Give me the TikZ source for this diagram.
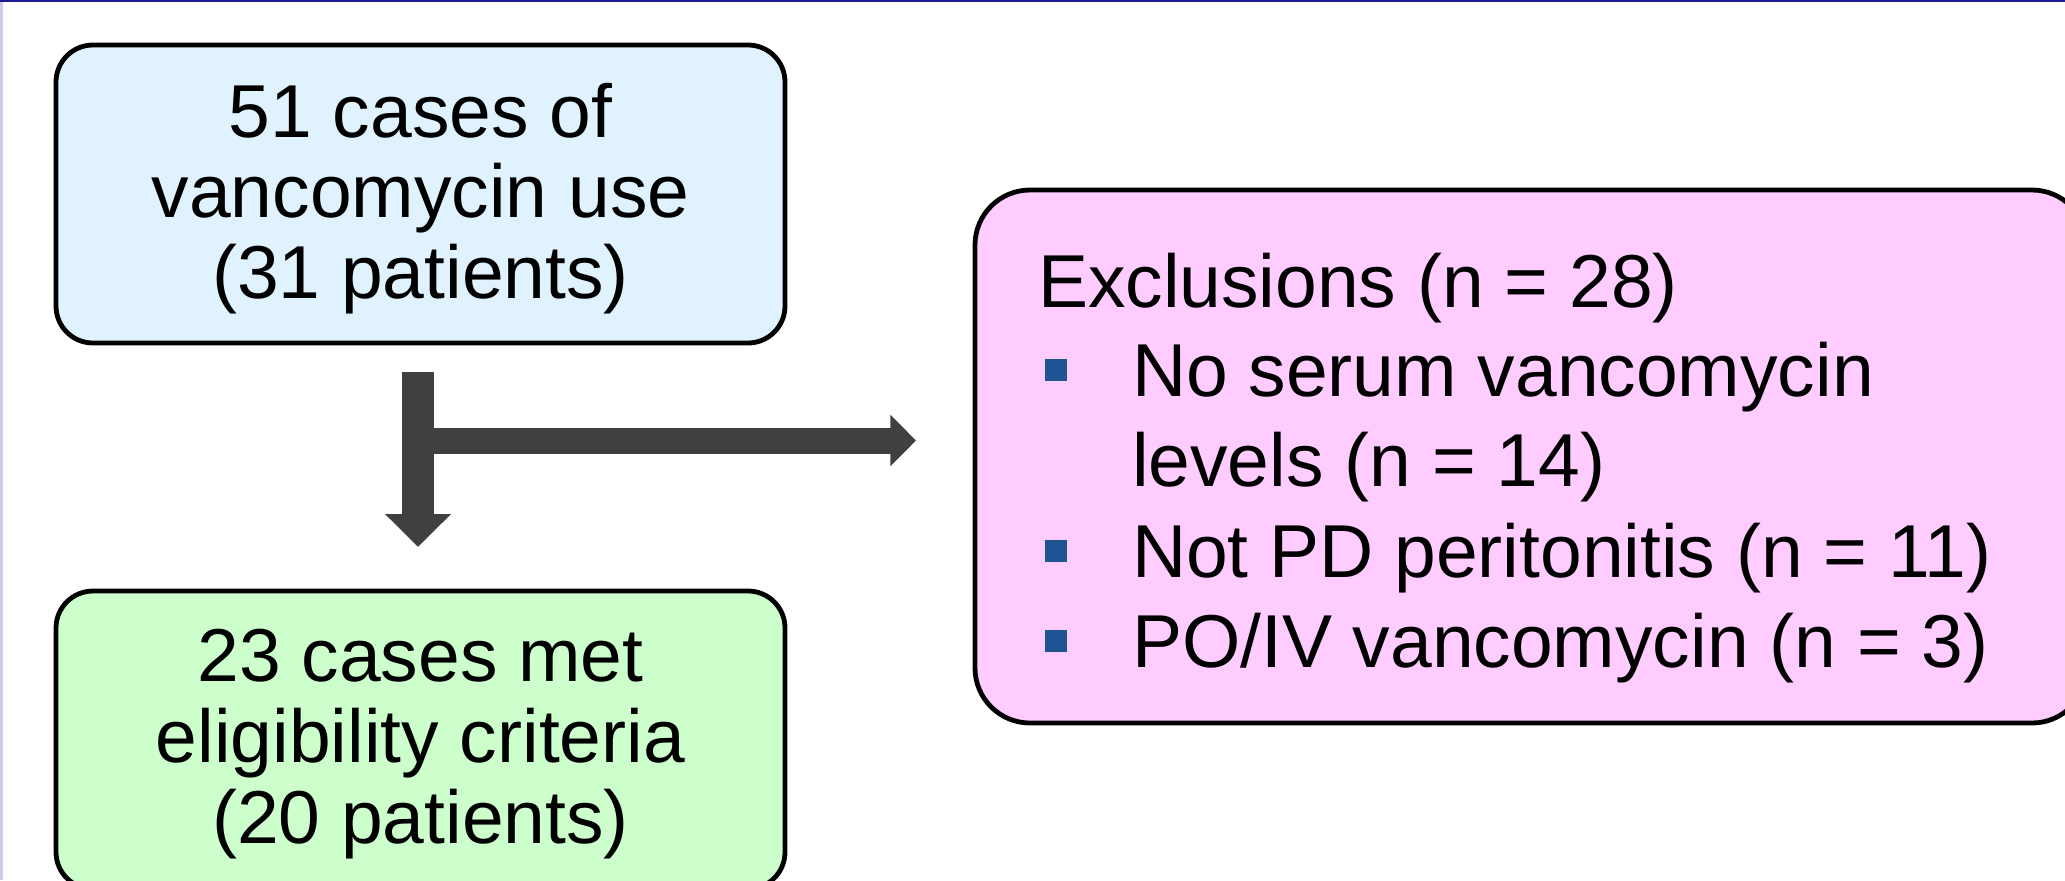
\documentclass[tikz,border=0pt]{standalone}
\usepackage{fontspec}
\setmainfont{Liberation Sans}
\usetikzlibrary{arrows.meta,calc}

\definecolor{casesfill}{HTML}{E0F2FE}
\definecolor{eligfill}{HTML}{CCFFCC}
\definecolor{exclfill}{HTML}{FFCCFF}
\definecolor{arrowgray}{HTML}{404040}
\definecolor{bulletblue}{RGB}{31,83,145}
\definecolor{frametop}{HTML}{1C1C96}
\definecolor{frameleft}{HTML}{CCCCEE}

\tikzset{
  flowbox/.style={draw=black, line width=2.4pt, rounded corners=18.5pt,
    inner sep=0pt, outer sep=0pt, minimum width=364.5pt, minimum height=149pt},
  exclbox/.style={draw=black, line width=2.4pt, rounded corners=27.5pt, fill=exclfill,
    inner sep=0pt, outer sep=0pt, minimum width=556pt, minimum height=266.5pt},
  txt/.style={font=\fontsize{37.5}{45}\selectfont, inner sep=0pt, outer sep=0pt},
  centerline/.style={txt, anchor=base},
  leftline/.style={txt, anchor=base west},
  bulletsq/.style={fill=bulletblue, inner sep=0pt, minimum size=11pt},
  fatarrow/.style={draw=arrowgray, line cap=butt},
}

\begin{document}
\begin{tikzpicture}[x=0.5pt, y=-0.5pt]
  % page frame
  \useasboundingbox (0,0) rectangle (2065,880);
  \fill[white] (0,0) rectangle (2065,880);
  \fill[frameleft] (0,0) rectangle (3,880);
  \fill[frametop] (0,0) rectangle (2065,2);

  % boxes
  \node[flowbox, fill=casesfill] (cases) at (420.5,194) {};
  \node[flowbox, fill=eligfill] (elig) at (420.5,740) {};
  \node[exclbox] (excl) at (1531,456.5) {};

  % top box text
  \node[centerline] (c1) at (420.5,137) {51 cases of};
  \node[centerline] (c2) at (420.5,217) {vancomycin use};
  \node[centerline] (c3) at (420.5,298) {(31 patients)};

  % bottom box text
  \node[centerline] (e1) at (420.5,681) {23 cases met};
  \node[centerline] (e2) at (420.5,762) {eligibility criteria};
  \node[centerline] (e3) at (420.5,843) {(20 patients)};

  % exclusions text
  \node[leftline] (xh) at (1038,307) {Exclusions (n = 28)};
  \node[bulletsq] (b1) at (1056,370) {};
  \node[leftline] (x1) at (1132,396) {No serum vancomycin};
  \node[leftline] (x1b) at (1132,486) {levels (n = 14)};
  \node[bulletsq] (b2) at (1056,551) {};
  \node[leftline] (x2) at (1132,577) {Not PD peritonitis (n = 11)};
  \node[bulletsq] (b3) at (1056,641) {};
  \node[leftline] (x3) at (1132,667) {PO/IV vancomycin (n = 3)};

  % connectors
  \coordinate (stemtop) at ($(cases.south)+(-2.5,29)$);
  \coordinate (stemtip) at ($(elig.north)+(-2.5,-44)$);
  \coordinate (split) at ($(cases.south)+(-2.5,97.5)$);
  \coordinate (armtip) at ($(split -| excl.west)+(-59,0)$);
  \draw[fatarrow, line width=13pt, -{Triangle[width=25pt,length=12.8pt]}] (split) -- (armtip);
  \draw[fatarrow, line width=16.25pt, -{Triangle[width=32pt,length=16.5pt]}] (stemtop) -- (stemtip);
\end{tikzpicture}
\end{document}
